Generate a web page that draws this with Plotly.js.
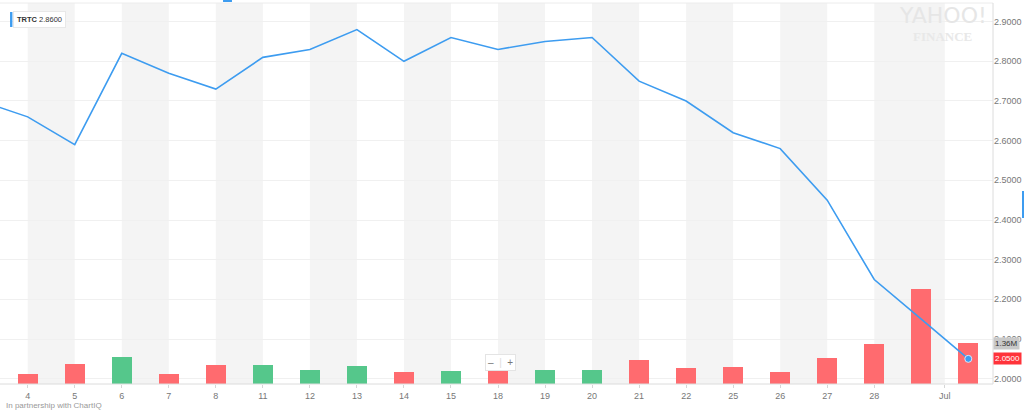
<!DOCTYPE html>
<html>
<head>
<meta charset="utf-8">
<script src="https://cdn.plot.ly/plotly-3.0.1.min.js"></script>
<style>
  html, body { margin: 0; padding: 0; background: #fff; }
  #chart { width: 1024px; height: 412px; }
</style>
</head>
<body>
<div id="chart"></div>
<script>
// ---- data ----
const symbol = 'TRTC';
const legendPrice = 2.86;
const sessions = ['Jun 1','Jun 4','Jun 5','Jun 6','Jun 7','Jun 8','Jun 11','Jun 12','Jun 13','Jun 14','Jun 15',
                  'Jun 18','Jun 19','Jun 20','Jun 21','Jun 22','Jun 25','Jun 26','Jun 27','Jun 28','Jun 29','Jul 2'];
const closes = [2.70, 2.66, 2.59, 2.82, 2.77, 2.73, 2.81, 2.83, 2.88, 2.80, 2.86,
                2.83, 2.85, 2.86, 2.75, 2.70, 2.62, 2.58, 2.45, 2.25, 2.15, 2.05];
const volumes = [null, 345e3, 677e3, 896e3, 322e3, 620e3, 643e3, 478e3, 587e3, 388e3, 444e3,
                 488e3, 478e3, 454e3, 809e3, 531e3, 554e3, 388e3, 862e3, 1340e3, 3141e3, 1360e3];
const tickLabels = ['4','5','6','7','8','11','12','13','14','15','18','19','20','21','22','25','26','27','28','Jul'];
const volumeLabel = '1.36M';

// ---- derived ----
const idx = sessions.map((s, i) => i);
const barColors = closes.map((c, i) => (i > 0 && c >= closes[i - 1]) ? '#55c78b' : '#ff6b6f');
const tickVals = tickLabels.map(t => {
  const mi = sessions.findIndex(s => s.startsWith(t + ' '));
  if (mi >= 0) return mi - 0.5;          // month boundary label
  return sessions.indexOf('Jun ' + t);
});
const last = sessions.length - 1;

const FONT = 'Liberation Sans, Arial, Helvetica, sans-serif';

const traces = [
  {
    type: 'bar', x: idx, y: volumes, yaxis: 'y',
    marker: { color: barColors, line: { width: 0 } },
    width: 0.43, hoverinfo: 'skip'
  },
  {
    type: 'scatter', mode: 'lines', x: idx, y: closes, yaxis: 'y2',
    line: { color: '#3d9cf0', width: 1.6 }, hoverinfo: 'skip'
  },
  {
    type: 'scatter', mode: 'markers', x: [idx[last]], y: [closes[last]], yaxis: 'y2',
    marker: { color: '#3d9cf0', size: 7, line: { color: '#d8e8fb', width: 1 } }, hoverinfo: 'skip'
  }
];

// alternating stripes between labelled ticks
const shapes = [];
for (let k = 0; k + 1 < tickVals.length; k += 2) {
  shapes.push({ type: 'rect', xref: 'x', yref: 'paper', x0: tickVals[k], x1: tickVals[k + 1], y0: 0, y1: 1,
    fillcolor: '#f4f4f4', line: { width: 0 }, layer: 'below' });
}
// frame lines
shapes.push({ type: 'line', xref: 'paper', yref: 'paper', x0: 0, x1: 1, y0: 1, y1: 1, line: { color: '#ececec', width: 1 } });
shapes.push({ type: 'line', xref: 'paper', yref: 'paper', x0: 0, x1: 1, y0: 0, y1: 0, line: { color: '#dcdcdc', width: 1 } });
shapes.push({ type: 'line', xref: 'paper', yref: 'paper', x0: 1, x1: 1, y0: 0, y1: 1, line: { color: '#dcdcdc', width: 1 } });
// legend color bar
shapes.push({ type: 'rect', xref: 'paper', yref: 'paper', x0: 0.0101, x1: 0.0125, y0: 0.9764, y1: 0.9370,
  fillcolor: '#3d9cf0', line: { width: 0 } });
// small blue handles
shapes.push({ type: 'rect', xref: 'paper', yref: 'paper', x0: 0.2246, x1: 0.2336, y0: 1.0079, y1: 1.0026,
  fillcolor: '#3d9cf0', line: { width: 0 } });
shapes.push({ type: 'rect', xref: 'paper', yref: 'paper', x0: 1.0292, x1: 1.0312, y0: 0.5066, y1: 0.4357,
  fillcolor: '#3d9cf0', line: { width: 0 } });

const annotations = [
  { xref: 'paper', yref: 'paper', x: 0.0128, y: 0.9567, xanchor: 'left', yanchor: 'middle',
    text: '<b>' + symbol + '</b> ' + legendPrice.toFixed(4), showarrow: false,
    font: { family: FONT, size: 7.5, color: '#333' }, bgcolor: '#ffffff', bordercolor: '#e8e8e8', borderwidth: 1, borderpad: 3 },
  { xref: 'paper', yref: 'paper', x: 0.9495, y: 0.967, xanchor: 'center', yanchor: 'middle',
    text: 'YAHOO!', showarrow: false, font: { family: 'DejaVu Sans, sans-serif', size: 22, color: '#e6e6e6' } },
  { xref: 'paper', yref: 'paper', x: 0.9495, y: 0.912, xanchor: 'center', yanchor: 'middle',
    text: '<b>FINANCE</b>', showarrow: false, font: { family: 'Liberation Serif, serif', size: 13, color: '#e8e8e8' } },
  { xref: 'paper', yref: 'y', x: 1, y: volumes[last], xanchor: 'left', yanchor: 'middle',
    text: volumeLabel, showarrow: false, font: { family: FONT, size: 8, color: '#333' },
    bgcolor: '#c9c9c9', borderpad: 1 },
  { xref: 'paper', yref: 'y2', x: 1, y: closes[last], xanchor: 'left', yanchor: 'middle',
    text: closes[last].toFixed(4), showarrow: false, font: { family: FONT, size: 8, color: '#ffffff' },
    bgcolor: '#ff333a', borderpad: 1 },
  { xref: 'paper', yref: 'paper', x: 0.5045, y: 0.0577, xanchor: 'center', yanchor: 'middle',
    text: '–  <span style="color:#ddd">|</span>  +', showarrow: false, font: { family: FONT, size: 10, color: '#777' },
    bgcolor: '#ffffff', bordercolor: '#e4e4e4', borderwidth: 1, borderpad: 2 },
  { xref: 'paper', yref: 'paper', x: 0.004, y: -0.0577, xanchor: 'left', yanchor: 'middle',
    text: 'In partnership with ChartIQ', showarrow: false, font: { family: FONT, size: 8, color: '#999' } }
];

const layout = {
  width: 1024, height: 412,
  margin: { l: 0, r: 31, t: 3, b: 28, pad: 0 },
  paper_bgcolor: '#ffffff', plot_bgcolor: 'rgba(0,0,0,0)',
  showlegend: false, bargap: 0, hovermode: false,
  xaxis: {
    range: [0.411, 21.525], tickmode: 'array', tickvals: tickVals, ticktext: tickLabels,
    showgrid: false, zeroline: false, showline: false,
    ticks: 'outside', ticklen: 3, tickcolor: '#d6d6d6',
    tickfont: { family: FONT, size: 9, color: '#777' }, fixedrange: true
  },
  yaxis: { range: [0, 12.64e6], visible: false, showgrid: false, zeroline: false, fixedrange: true },
  yaxis2: {
    overlaying: 'y', side: 'right', range: [1.9866, 2.947],
    tickmode: 'linear', tick0: 2, dtick: 0.1, tickformat: '.4f',
    showgrid: true, gridcolor: '#f0f0f0', gridwidth: 1, zeroline: false, showline: false,
    ticks: '', tickfont: { family: FONT, size: 9, color: '#777' }, fixedrange: true
  },
  shapes: shapes,
  annotations: annotations
};

Plotly.newPlot('chart', traces, layout, { staticPlot: true, displayModeBar: false });
</script>
</body>
</html>
